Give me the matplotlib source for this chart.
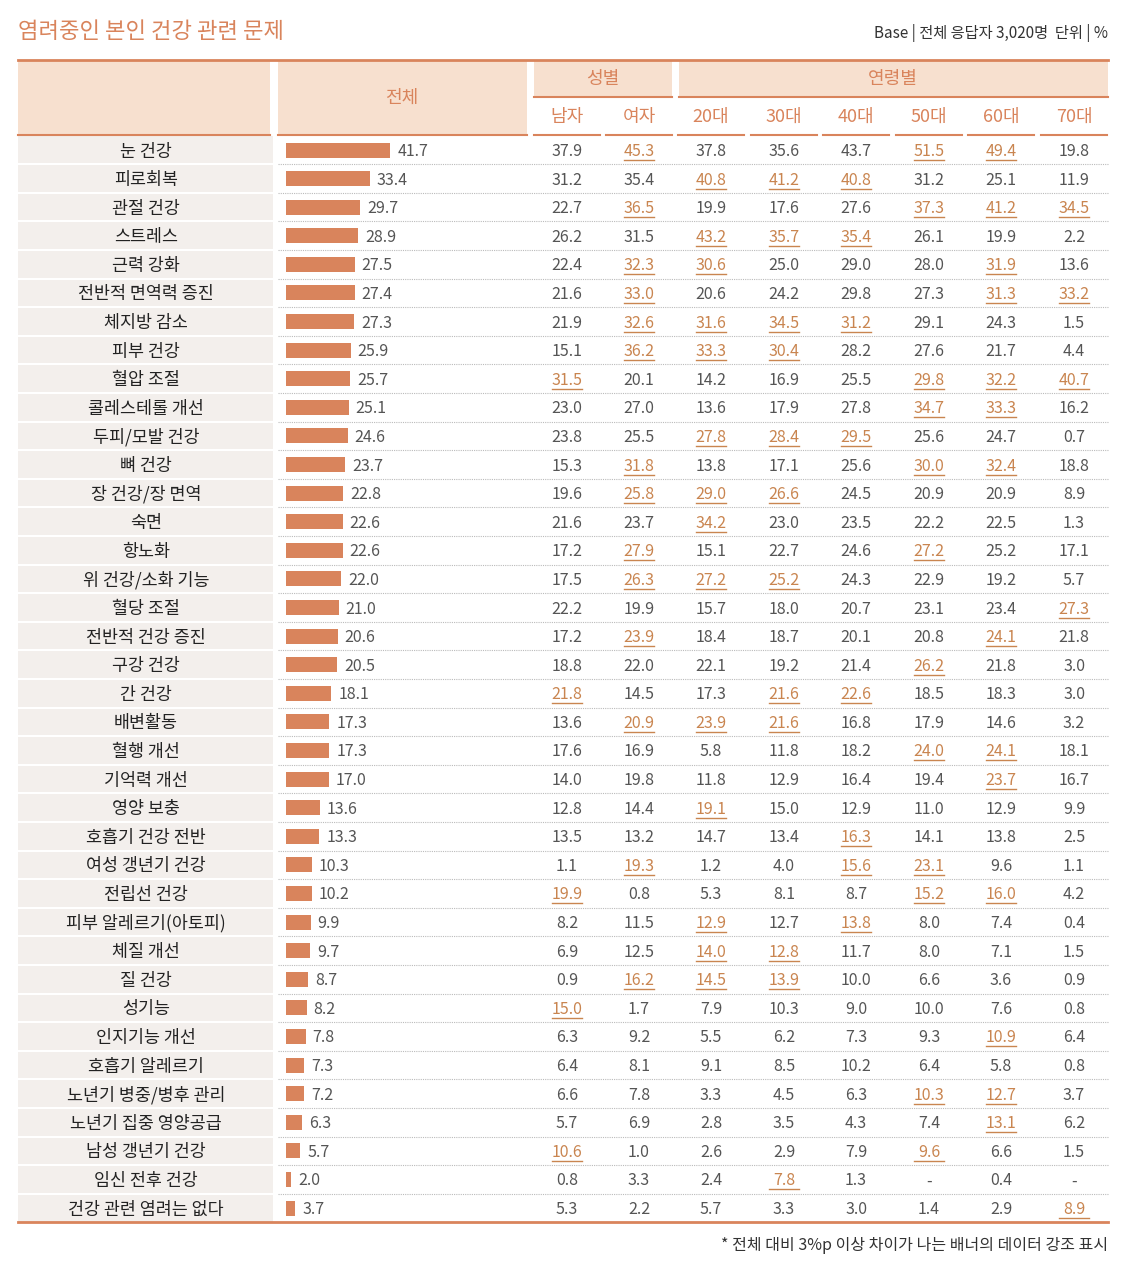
import matplotlib.pyplot as plt
from matplotlib.patches import Rectangle

plt.rcParams["font.family"] = "Noto Sans CJK KR"

items = ["눈 건강", "피로회복", "관절 건강", "스트레스", "근력 강화", "전반적 면역력 증진", "체지방 감소",
         "피부 건강", "혈압 조절", "콜레스테롤 개선", "두피/모발 건강", "뼈 건강", "장 건강/장 면역", "숙면",
         "항노화", "위 건강/소화 기능", "혈당 조절", "전반적 건강 증진", "구강 건강", "간 건강", "배변활동",
         "혈행 개선", "기억력 개선", "영양 보충", "호흡기 건강 전반", "여성 갱년기 건강", "전립선 건강",
         "피부 알레르기(아토피)", "체질 개선", "질 건강", "성기능", "인지기능 개선", "호흡기 알레르기",
         "노년기 병중/병후 관리", "노년기 집중 영양공급", "남성 갱년기 건강", "임신 전후 건강", "건강 관련 염려는 없다"]
total = [41.7, 33.4, 29.7, 28.9, 27.5, 27.4, 27.3, 25.9, 25.7, 25.1, 24.6, 23.7, 22.8, 22.6, 22.6, 22.0,
         21.0, 20.6, 20.5, 18.1, 17.3, 17.3, 17.0, 13.6, 13.3, 10.3, 10.2, 9.9, 9.7, 8.7, 8.2, 7.8, 7.3,
         7.2, 6.3, 5.7, 2.0, 3.7]
male = [37.9, 31.2, 22.7, 26.2, 22.4, 21.6, 21.9, 15.1, 31.5, 23.0, 23.8, 15.3, 19.6, 21.6, 17.2, 17.5,
        22.2, 17.2, 18.8, 21.8, 13.6, 17.6, 14.0, 12.8, 13.5, 1.1, 19.9, 8.2, 6.9, 0.9, 15.0, 6.3, 6.4,
        6.6, 5.7, 10.6, 0.8, 5.3]
female = [45.3, 35.4, 36.5, 31.5, 32.3, 33.0, 32.6, 36.2, 20.1, 27.0, 25.5, 31.8, 25.8, 23.7, 27.9, 26.3,
          19.9, 23.9, 22.0, 14.5, 20.9, 16.9, 19.8, 14.4, 13.2, 19.3, 0.8, 11.5, 12.5, 16.2, 1.7, 9.2, 8.1,
          7.8, 6.9, 1.0, 3.3, 2.2]
age20 = [37.8, 40.8, 19.9, 43.2, 30.6, 20.6, 31.6, 33.3, 14.2, 13.6, 27.8, 13.8, 29.0, 34.2, 15.1, 27.2,
         15.7, 18.4, 22.1, 17.3, 23.9, 5.8, 11.8, 19.1, 14.7, 1.2, 5.3, 12.9, 14.0, 14.5, 7.9, 5.5, 9.1,
         3.3, 2.8, 2.6, 2.4, 5.7]
age30 = [35.6, 41.2, 17.6, 35.7, 25.0, 24.2, 34.5, 30.4, 16.9, 17.9, 28.4, 17.1, 26.6, 23.0, 22.7, 25.2,
         18.0, 18.7, 19.2, 21.6, 21.6, 11.8, 12.9, 15.0, 13.4, 4.0, 8.1, 12.7, 12.8, 13.9, 10.3, 6.2, 8.5,
         4.5, 3.5, 2.9, 7.8, 3.3]
age40 = [43.7, 40.8, 27.6, 35.4, 29.0, 29.8, 31.2, 28.2, 25.5, 27.8, 29.5, 25.6, 24.5, 23.5, 24.6, 24.3,
         20.7, 20.1, 21.4, 22.6, 16.8, 18.2, 16.4, 12.9, 16.3, 15.6, 8.7, 13.8, 11.7, 10.0, 9.0, 7.3, 10.2,
         6.3, 4.3, 7.9, 1.3, 3.0]
age50 = [51.5, 31.2, 37.3, 26.1, 28.0, 27.3, 29.1, 27.6, 29.8, 34.7, 25.6, 30.0, 20.9, 22.2, 27.2, 22.9,
         23.1, 20.8, 26.2, 18.5, 17.9, 24.0, 19.4, 11.0, 14.1, 23.1, 15.2, 8.0, 8.0, 6.6, 10.0, 9.3, 6.4,
         10.3, 7.4, 9.6, None, 1.4]
age60 = [49.4, 25.1, 41.2, 19.9, 31.9, 31.3, 24.3, 21.7, 32.2, 33.3, 24.7, 32.4, 20.9, 22.5, 25.2, 19.2,
         23.4, 24.1, 21.8, 18.3, 14.6, 24.1, 23.7, 12.9, 13.8, 9.6, 16.0, 7.4, 7.1, 3.6, 7.6, 10.9, 5.8,
         12.7, 13.1, 6.6, 0.4, 2.9]
age70 = [19.8, 11.9, 34.5, 2.2, 13.6, 33.2, 1.5, 4.4, 40.7, 16.2, 0.7, 18.8, 8.9, 1.3, 17.1, 5.7,
         27.3, 21.8, 3.0, 3.0, 3.2, 18.1, 16.7, 9.9, 2.5, 1.1, 4.2, 0.4, 1.5, 0.9, 0.8, 6.4, 0.8,
         3.7, 6.2, 1.5, None, 8.9]
col_labels = ["남자", "여자", "20대", "30대", "40대", "50대", "60대", "70대"]
columns = [male, female, age20, age30, age40, age50, age60, age70]

ORANGE = "#d9845c"
HL = "#c98550"
HEAD_BG = "#f7e0cf"
LABEL_BG = "#f3efec"
NUM = "#555555"

fig = plt.figure(figsize=(11.43, 12.81), dpi=100)
ax = fig.add_axes([0, 0, 1, 1])
ax.set_xlim(0, 1143)
ax.set_ylim(1281, 0)
ax.axis("off")

ax.text(18, 31, "염려중인 본인 건강 관련 문제", fontsize=16, color=ORANGE, va="center", ha="left")
ax.text(1108, 33, "Base | 전체 응답자 3,020명  단위 | %", fontsize=11, color="#333", va="center", ha="right")

top, head_bot, sub_line = 60, 135, 97
row0, pitch = 150, (1208 - 150) / 37
rows_bot = row0 + pitch * 37.5
dy = 1.5  # small nudge so CJK text sits centred in the row

# header backgrounds
ax.add_patch(Rectangle((18, top), 252, head_bot - top, color=HEAD_BG, lw=0))
ax.add_patch(Rectangle((278, top), 249, head_bot - top, color=HEAD_BG, lw=0))
ax.add_patch(Rectangle((534, top), 138, sub_line - top, color=HEAD_BG, lw=0))
ax.add_patch(Rectangle((679, top), 429, sub_line - top, color=HEAD_BG, lw=0))
ax.plot([18, 1108], [top, top], color=ORANGE, lw=2)
ax.text(402, 98, "전체", fontsize=13, color=ORANGE, ha="center", va="center")
ax.text(603, 79, "성별", fontsize=13, color=ORANGE, ha="center", va="center")
ax.text(893, 79, "연령별", fontsize=13, color=ORANGE, ha="center", va="center")
ax.plot([534, 672], [sub_line, sub_line], color=ORANGE, lw=1.5)
ax.plot([679, 1108], [sub_line, sub_line], color=ORANGE, lw=1.5)

centers = [567, 639, 711, 784, 856, 929, 1001, 1074]
for cx, lab in zip(centers, col_labels):
    ax.text(cx, 117, lab, fontsize=13, color=ORANGE, ha="center", va="center")
    ax.plot([cx - 33, cx + 33], [head_bot, head_bot], color=ORANGE, lw=1.5)
ax.plot([18, 270], [head_bot, head_bot], color=ORANGE, lw=1.5)
ax.plot([278, 527], [head_bot, head_bot], color=ORANGE, lw=1.5)

# label column background
ax.add_patch(Rectangle((18, head_bot + 1), 255, rows_bot - head_bot - 1, color=LABEL_BG, lw=0))

scale = 2.5
for i, name in enumerate(items):
    y = row0 + i * pitch
    ax.text(146, y + dy, name, fontsize=12.5, color="#222", ha="center", va="center")
    ax.add_patch(Rectangle((286, y - 7.5), total[i] * scale, 15, color=ORANGE, lw=0))
    ax.text(286 + total[i] * scale + 7, y + dy, f"{total[i]:.1f}", fontsize=11.5, color=NUM,
            ha="left", va="center")
    for cx, col in zip(centers, columns):
        v = col[i]
        if v is None:
            ax.text(cx, y + dy, "-", fontsize=11.5, color=NUM, ha="center", va="center")
            continue
        s = f"{v:.1f}"
        if round(v - total[i], 1) >= 3.0:
            ax.text(cx, y + dy, s, fontsize=11.5, color=HL, ha="center", va="center")
            ax.plot([cx - 15, cx + 15], [y + 10, y + 10], color=HL, lw=1)
        else:
            ax.text(cx, y + dy, s, fontsize=11.5, color=NUM, ha="center", va="center")
    if i < len(items) - 1:
        yl = y + pitch / 2
        ax.plot([18, 273], [yl, yl], color="white", lw=1.5)
        ax.plot([278, 1108], [yl, yl], color="#bbbbbb", lw=0.8, ls=(0, (1, 1)))

ax.plot([18, 1108], [rows_bot, rows_bot], color=ORANGE, lw=2)
ax.text(1108, 1246, "* 전체 대비 3%p 이상 차이가 나는 배너의 데이터 강조 표시", fontsize=11.5, color="#333",
        ha="right", va="center")

fig.savefig("out.png", dpi=100, facecolor="white")
